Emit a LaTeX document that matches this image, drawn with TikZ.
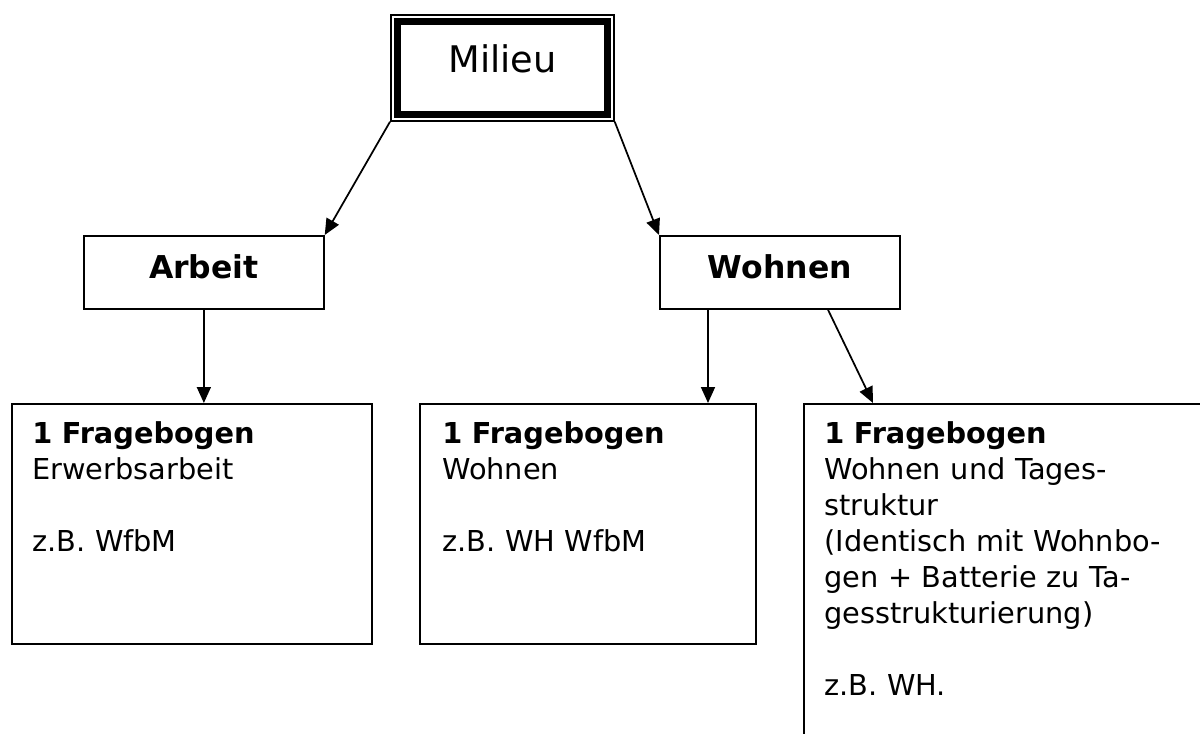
\documentclass[tikz,border=0pt]{standalone}
\usepackage{fontspec}
\setmainfont{DejaVu Sans}
\usetikzlibrary{arrows.meta,calc}
\begin{document}
\begin{tikzpicture}[x=0.75pt,y={(0pt,-0.75pt)},
  box/.style={draw, line width=1.3pt, rectangle, inner sep=0pt, anchor=north west},
  headbox/.style={box, minimum width=180pt, minimum height=54.75pt,
    font=\bfseries\fontsize{23.6}{28}\selectfont, text height=18pt, text depth=8.25pt},
  txt/.style={anchor=base west, inner sep=0pt, text width=300pt, align=left,
    font=\fontsize{21.6}{27}\selectfont},
  arr/.style={-{Triangle[length=12pt,width=10.5pt]}, line width=1.3pt}]
\clip (0,0) rectangle (1200,733);
\fill[white] (0,0) rectangle (1200,733);
% top node
\node[box, line width=1.3pt, minimum width=167.25pt, minimum height=79.5pt,
  font=\fontsize{27.5}{32}\selectfont, text height=22pt, text depth=14.5pt] (milieu) at (390,14) {Milieu};
\draw[line width=5pt] ($(milieu.north west)+(7.5,7.5)$) rectangle ($(milieu.south east)+(-7.5,-7.5)$);
% middle nodes
\node[headbox] (arbeit) at (83,235) {Arbeit};
\node[headbox] (wohnen) at (659,235) {Wohnen};
% bottom boxes
\node[box, minimum width=270pt, minimum height=180pt] (b1) at (11,403) {};
\node[box, minimum width=252pt, minimum height=180pt] (b2) at (419,403) {};
\node[box, minimum width=305.25pt, minimum height=256.5pt] (b3) at (803,403) {};
% texts
\node[txt] (t1) at ($(b1.north west)+(21,40)$) {\textbf{1 Fragebogen}\\Erwerbsarbeit\\[27pt]z.B. WfbM};
\node[txt] (t2) at ($(b2.north west)+(23,40)$) {\textbf{1 Fragebogen}\\Wohnen\\[27pt]z.B. WH WfbM};
\node[txt] (t3) at ($(b3.north west)+(21,40)$) {\textbf{1 Fragebogen}\\Wohnen und Tages-\\struktur\\(Identisch mit Wohnbo-\\gen + Batterie zu Ta-\\gesstrukturierung)\\[27pt]z.B. WH.};
% connectors
\coordinate (wa) at ($(wohnen.south west)+(49,0)$);
\coordinate (wb) at ($(wohnen.south west)+(169,0)$);
\coordinate (b3in) at ($(b3.north west)+(70,0)$);
\draw[arr] (milieu.south west) -- (arbeit.north east);
\draw[arr] (milieu.south east) -- (wohnen.north west);
\draw[arr] (arbeit.south) -- (arbeit.south |- b1.north);
\draw[arr] (wa) -- (wa |- b2.north);
\draw[arr] (wb) -- (b3in);
\end{tikzpicture}
\end{document}
